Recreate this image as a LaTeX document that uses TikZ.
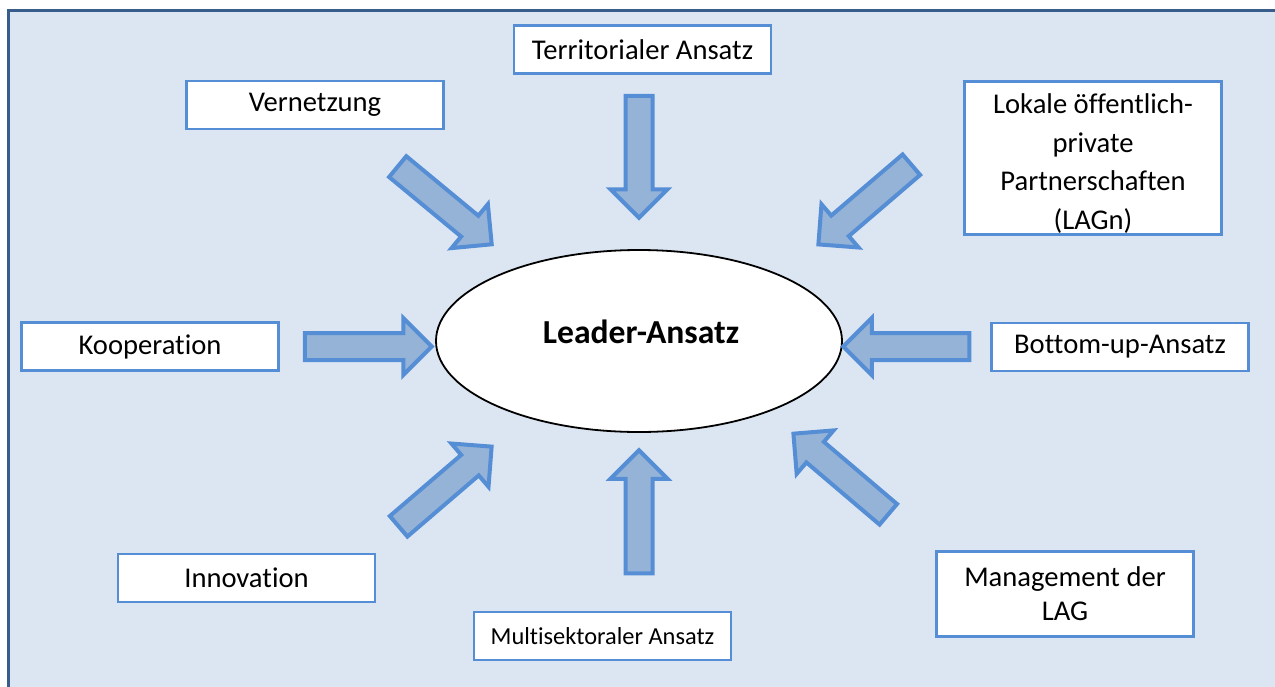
\documentclass[tikz,border=0pt]{standalone}
\usepackage{fontspec}
\setmainfont{Carlito}[Ligatures=CommonOff]
\usetikzlibrary{shapes.arrows,shapes.geometric,calc}
\definecolor{bgfill}{HTML}{DCE6F2}
\definecolor{frameblue}{HTML}{385D8A}
\definecolor{boxblue}{HTML}{558ED5}
\definecolor{arrowfill}{HTML}{95B3D7}
\begin{document}
\begin{tikzpicture}[x=0.5pt,y=-0.5pt,
  lbox/.style={draw=boxblue, line width=1.3pt, fill=white, inner sep=0pt,
    minimum width=128.5pt, minimum height=24pt, align=center,
    font=\fontsize{14.3}{19.25}\selectfont},
  ltext/.style={inner sep=0pt, align=center, font=\fontsize{14.3}{19.4}\selectfont},
  barrow/.style={single arrow, draw=boxblue, fill=arrowfill, line width=2pt,
    inner sep=0pt, text height=11.5pt, text depth=0pt, text width=0pt,
    single arrow head extend=7.5pt, single arrow tip angle=90}
]
\useasboundingbox (0,0) rectangle (1275,686);
% frame
\draw[frameblue, fill=bgfill, line width=1.5pt] (8.5,10) rectangle (1300,710);

% boxes
\node[lbox] (terr) at (642.5,49.5) {Territorialer Ansatz};
\node[lbox] (vern) at (315,105) {Vernetzung};
\node[lbox, minimum height=76.5pt] (lok) at (1093,158) {};
\node[ltext] (loktext) at (1093,163.5) {Lokale öffentlich-\\private\\Partnerschaften\\(LAGn)};
\node[lbox] (koop) at (150,346.5) {Kooperation};
\node[lbox] (bott) at (1120,347) {Bottom-up-Ansatz};
\node[lbox] (inno) at (246.5,578) {Innovation};
\node[lbox, font=\fontsize{12.2}{15}\selectfont] (multi) at (602.5,636) {Multisektoraler Ansatz};
\node[lbox, minimum height=42.5pt, font=\fontsize{14.3}{17}\selectfont] (mgmt) at (1065,594) {Management der\\LAG};

% center ellipse
\node[ellipse, draw=black, line width=0.9pt, fill=white, minimum width=203pt, minimum height=91pt, inner sep=0pt] (leader) at (639,341) {};
\node[font=\fontsize{16.8}{20}\selectfont\bfseries] (leadertext) at (641,332) {Leader-Ansatz};

% arrow end points
\coordinate (koopT) at (298,346.5);  \coordinate (koopH) at (425,346.5);
\coordinate (bottT) at (976,346.5);  \coordinate (bottH) at (850,346.5);
\coordinate (terrT) at (639,89);     \coordinate (terrH) at (639,211);
\coordinate (multiT) at (639,580);   \coordinate (multiH) at (639,457);
\coordinate (vernT) at (392.5,162.3); \coordinate (vernH) at (486.5,240);
\coordinate (lokT) at (916.5,160.3); \coordinate (lokH) at (823.5,240);
\coordinate (mgmtT) at (893.5,518.7); \coordinate (mgmtH) at (798.5,438);
\coordinate (innoT) at (393.5,530.7); \coordinate (innoH) at (486.5,451);

\foreach \nm in {koop,bott,terr,multi,vern,lok,mgmt,inno}{
  \path let \p1=($(\nm H)-(\nm T)$), \n1={atan2(\y1,\x1)}, \n2={veclen(\x1,\y1)} in
    node[barrow, rotate=\n1, minimum height=\n2] (\nm arrow) at ($(\nm T)!0.5!(\nm H)$) {};
}
\end{tikzpicture}
\end{document}
